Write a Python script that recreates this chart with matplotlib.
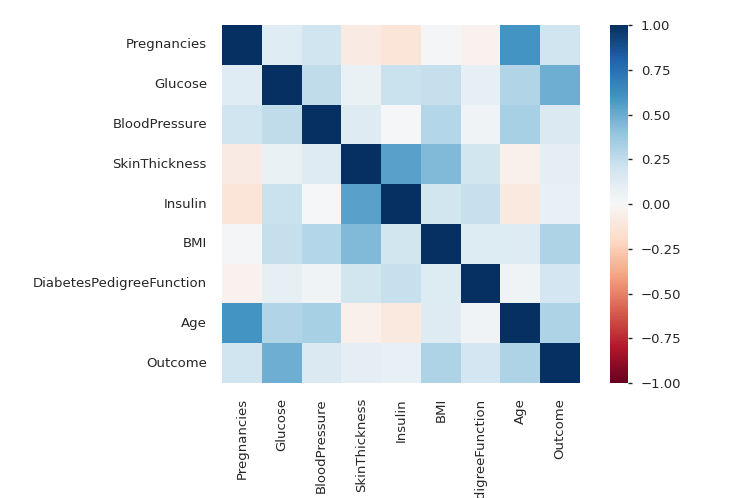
import numpy as np
import pandas as pd
import matplotlib
matplotlib.use("Agg")
import matplotlib.pyplot as plt
import matplotlib.ticker as mticker
import seaborn as sns

labels = ["Pregnancies", "Glucose", "BloodPressure", "SkinThickness", "Insulin",
          "BMI", "DiabetesPedigreeFunction", "Age", "Outcome"]

row_pregnancies = [1.00, 0.12, 0.20, -0.08, -0.13, 0.02, -0.04, 0.60, 0.20]
row_glucose = [0.12, 1.00, 0.25, 0.07, 0.22, 0.24, 0.09, 0.30, 0.49]
row_bp = [0.20, 0.25, 1.00, 0.13, 0.01, 0.29, 0.04, 0.33, 0.15]
row_skin = [-0.08, 0.07, 0.13, 1.00, 0.54, 0.44, 0.19, -0.05, 0.10]
row_insulin = [-0.13, 0.22, 0.01, 0.54, 1.00, 0.19, 0.23, -0.10, 0.08]
row_bmi = [0.02, 0.24, 0.29, 0.44, 0.19, 1.00, 0.14, 0.13, 0.31]
row_dpf = [-0.04, 0.09, 0.04, 0.19, 0.23, 0.14, 1.00, 0.04, 0.18]
row_age = [0.60, 0.30, 0.33, -0.05, -0.10, 0.13, 0.04, 1.00, 0.31]
row_outcome = [0.20, 0.49, 0.15, 0.10, 0.08, 0.31, 0.18, 0.31, 1.00]

corr = pd.DataFrame([row_pregnancies, row_glucose, row_bp, row_skin, row_insulin,
                     row_bmi, row_dpf, row_age, row_outcome],
                    index=labels, columns=labels)

cbar_ticks = [-1, -0.75, -0.5, -0.25, 0, 0.25, 0.5, 0.75, 1]

sns.set_style("white")
plt.rcParams['font.family'] = ['DejaVu Sans']

W, H = 746, 498
fig = plt.figure(figsize=(W / 100, H / 100), dpi=100)
ax = fig.add_axes([222 / W, 1 - 383 / H, (580 - 222) / W, (383 - 25) / H])
cax = fig.add_axes([610 / W, 1 - 383 / H, (628 - 610) / W, (383 - 25) / H])

sns.heatmap(corr, ax=ax, cbar_ax=cax, cmap="RdBu", vmin=-1, vmax=1)
ax.tick_params(length=0, labelsize=9.55, colors="#262626", pad=10.8)
cax.set_yticks(cbar_ticks)
cax.yaxis.set_major_formatter(mticker.FuncFormatter(lambda v, p: f"{v:.2f}".replace("-", "\u2212")))
cax.tick_params(labelsize=9.55, colors="#262626", length=3.2, width=1, pad=6, right=True)

fig.savefig("out.png", dpi=100)
